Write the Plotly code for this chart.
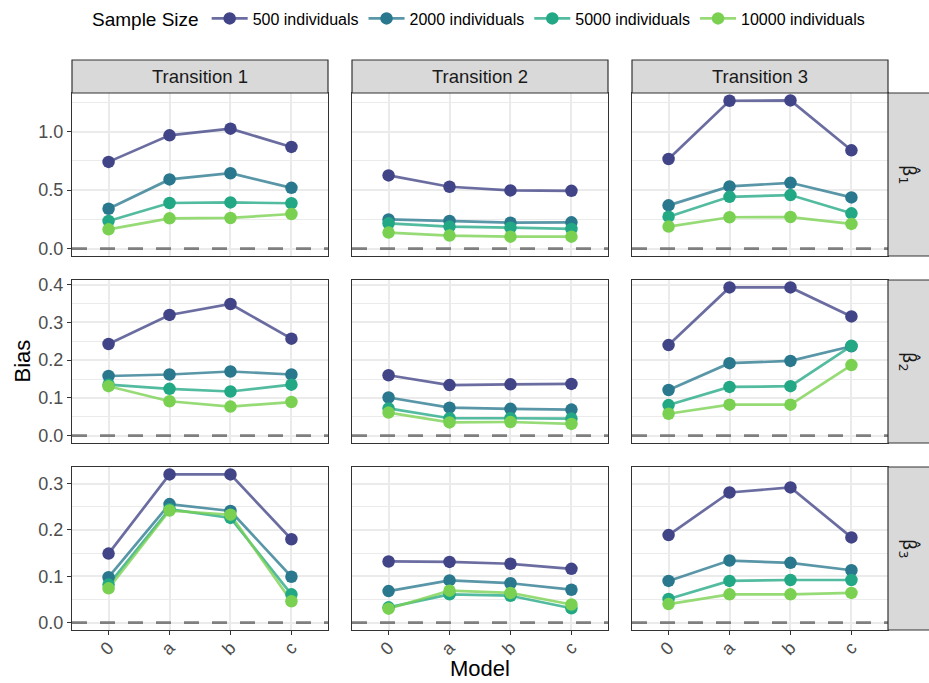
import plotly.graph_objects as go

# ---- data -------------------------------------------------------------
models = ["0", "a", "b", "c"]
transitions = ["Transition 1", "Transition 2", "Transition 3"]
sample_sizes = ["500 individuals", "2000 individuals", "5000 individuals", "10000 individuals"]
size_colors = ["#414487", "#2A788E", "#22A884", "#7AD151"]
param_labels = ["β\u0302<sub>1</sub>", "β\u0302<sub>2</sub>", "β\u0302<sub>3</sub>"]

# rows: sample size (500, 2000, 5000, 10000); columns: models 0, a, b, c
beta1_trans1 = [[0.742, 0.969, 1.026, 0.870],
                [0.341, 0.592, 0.645, 0.520],
                [0.236, 0.390, 0.395, 0.388],
                [0.165, 0.259, 0.262, 0.296]]
beta1_trans2 = [[0.626, 0.529, 0.498, 0.494],
                [0.250, 0.236, 0.222, 0.225],
                [0.216, 0.188, 0.179, 0.168],
                [0.137, 0.111, 0.102, 0.102]]
beta1_trans3 = [[0.767, 1.265, 1.268, 0.841],
                [0.370, 0.532, 0.563, 0.438],
                [0.273, 0.443, 0.458, 0.302],
                [0.188, 0.268, 0.270, 0.211]]
beta2_trans1 = [[0.243, 0.320, 0.349, 0.257],
                [0.158, 0.162, 0.170, 0.162],
                [0.135, 0.124, 0.117, 0.135],
                [0.131, 0.091, 0.077, 0.089]]
beta2_trans2 = [[0.160, 0.134, 0.136, 0.137],
                [0.101, 0.074, 0.071, 0.069],
                [0.072, 0.046, 0.046, 0.045],
                [0.061, 0.035, 0.036, 0.031]]
beta2_trans3 = [[0.240, 0.393, 0.393, 0.316],
                [0.121, 0.192, 0.198, 0.237],
                [0.081, 0.129, 0.131, 0.238],
                [0.058, 0.082, 0.082, 0.187]]
beta3_trans1 = [[0.149, 0.320, 0.320, 0.180],
                [0.098, 0.256, 0.241, 0.099],
                [0.082, 0.245, 0.226, 0.061],
                [0.074, 0.242, 0.233, 0.046]]
beta3_trans2 = [[0.132, 0.131, 0.127, 0.116],
                [0.068, 0.091, 0.085, 0.071],
                [0.033, 0.061, 0.058, 0.031],
                [0.030, 0.069, 0.064, 0.039]]
beta3_trans3 = [[0.189, 0.281, 0.292, 0.184],
                [0.090, 0.134, 0.129, 0.113],
                [0.051, 0.090, 0.092, 0.092],
                [0.040, 0.061, 0.061, 0.064]]

panels = [[beta1_trans1, beta1_trans2, beta1_trans3],
          [beta2_trans1, beta2_trans2, beta2_trans3],
          [beta3_trans1, beta3_trans2, beta3_trans3]]

major_ticks = [[0.0, 0.5, 1.0], [0.0, 0.1, 0.2, 0.3, 0.4], [0.0, 0.1, 0.2, 0.3]]
minor_ticks = [[0.25, 0.75, 1.25], [0.05, 0.15, 0.25, 0.35], [0.05, 0.15, 0.25]]

# ---- layout geometry (pixels) ----------------------------------------
W, H = 929, 683
col_px = [(72, 328), (352, 608), (632, 888)]
row_px = [(93, 256), (280, 443), (467, 630)]
strip_top = (60, 93)
strip_right = (888, 929)
FONT = "Liberation Sans"
BORDER = "#333333"
GRID = "#EBEBEB"


def px_x(p):
    return p / W


def px_y(p):
    return 1 - p / H


def rgba(hex_color, a):
    h = hex_color.lstrip("#")
    return "rgba(%d,%d,%d,%.2f)" % (int(h[0:2], 16), int(h[2:4], 16), int(h[4:6], 16), a)


fig = go.Figure()
layout = {}
shapes = []
annotations = []

for r in range(3):
    # facet rows share the y scale
    vals = [v for c in range(3) for s in panels[r][c] for v in s]
    lo, hi = min(0.0, min(vals)), max(vals)
    pad = 0.05 * (hi - lo)
    yrange = [lo - pad, hi + pad]
    for c in range(3):
        idx = r * 3 + 1 + c
        sfx = "" if idx == 1 else str(idx)
        xname, yname = "x" + sfx, "y" + sfx
        layout["xaxis" + sfx] = dict(
            domain=[px_x(col_px[c][0]), px_x(col_px[c][1])],
            anchor=yname, type="category", categoryorder="array",
            categoryarray=models, range=[-0.6, 3.6], automargin=False,
            showgrid=True, gridcolor=GRID, gridwidth=1.5,
            showline=True, mirror=True, linecolor=BORDER, linewidth=1.2,
            zeroline=False, fixedrange=True,
            showticklabels=(r == 2), tickangle=-45, ticklabelstandoff=-5,
            ticks="outside" if r == 2 else "", ticklen=4, tickcolor=BORDER,
            tickfont=dict(family=FONT, size=18, color="#4D4D4D"),
        )
        layout["yaxis" + sfx] = dict(
            domain=[px_y(row_px[r][1]), px_y(row_px[r][0])],
            anchor=xname, range=yrange, automargin=False,
            tickmode="array", tickvals=major_ticks[r],
            ticktext=["%.1f" % t for t in major_ticks[r]],
            showgrid=True, gridcolor=GRID, gridwidth=1.5,
            minor=dict(tickmode="array", tickvals=minor_ticks[r], showgrid=True,
                       gridcolor=GRID, gridwidth=0.8, ticks=""),
            showline=True, mirror=True, linecolor=BORDER, linewidth=1.2,
            zeroline=False, fixedrange=True,
            showticklabels=(c == 0),
            ticks="outside" if c == 0 else "", ticklen=4, tickcolor=BORDER,
            tickfont=dict(family=FONT, size=18, color="#4D4D4D"),
        )
        # reference line at zero bias
        shapes.append(dict(type="line", xref="paper", yref=yname,
                           x0=px_x(col_px[c][0]), x1=px_x(col_px[c][1]), y0=0, y1=0,
                           layer="above",
                           line=dict(color="#7F7F7F", width=2.8, dash="15px,13px")))
        series = panels[r][c]
        # lines first, then points on top
        for k, s in enumerate(series):
            fig.add_trace(go.Scatter(x=models, y=s, mode="lines", xaxis=xname, yaxis=yname,
                                     line=dict(color=rgba(size_colors[k], 0.78), width=2.7),
                                     showlegend=False, hoverinfo="skip"))
        for k, s in enumerate(series):
            fig.add_trace(go.Scatter(x=models, y=s, mode="markers", xaxis=xname, yaxis=yname,
                                     marker=dict(color=size_colors[k], size=12.5),
                                     showlegend=False, name=sample_sizes[k]))

# legend entries
for k, name in enumerate(sample_sizes):
    fig.add_trace(go.Scatter(x=[None], y=[None], mode="lines+markers", name=name,
                             line=dict(color=rgba(size_colors[k], 0.78), width=2.7),
                             marker=dict(color=size_colors[k], size=12.5),
                             xaxis="x", yaxis="y", showlegend=True))

# strips
for c, label in enumerate(transitions):
    shapes.append(dict(type="rect", xref="paper", yref="paper",
                       x0=px_x(col_px[c][0]), x1=px_x(col_px[c][1]),
                       y0=px_y(strip_top[1]), y1=px_y(strip_top[0]),
                       fillcolor="#D9D9D9", line=dict(color=BORDER, width=1.2), layer="above"))
    annotations.append(dict(text=label, xref="paper", yref="paper",
                            x=px_x(sum(col_px[c]) / 2), y=px_y(sum(strip_top) / 2),
                            showarrow=False, xanchor="center", yanchor="middle",
                            font=dict(family=FONT, size=18.5, color="#1A1A1A")))
for r, label in enumerate(param_labels):
    shapes.append(dict(type="rect", xref="paper", yref="paper",
                       x0=px_x(strip_right[0]), x1=1.01,
                       y0=px_y(row_px[r][1]), y1=px_y(row_px[r][0]),
                       fillcolor="#D9D9D9", line=dict(color=BORDER, width=1.2), layer="above"))
    annotations.append(dict(text=label, xref="paper", yref="paper",
                            x=px_x(sum(strip_right) / 2), y=px_y(sum(row_px[r]) / 2),
                            showarrow=False, xanchor="center", yanchor="middle", textangle=90,
                            font=dict(family="DejaVu Sans", size=18, color="#1A1A1A")))

# axis titles
annotations.append(dict(text="Bias", xref="paper", yref="paper", x=px_x(22),
                        y=px_y((row_px[0][0] + row_px[2][1]) / 2), showarrow=False,
                        textangle=-90, xanchor="center", yanchor="middle",
                        font=dict(family=FONT, size=22, color="#000000")))
annotations.append(dict(text="Model", xref="paper", yref="paper",
                        x=px_x((col_px[0][0] + col_px[2][1]) / 2), y=0,
                        showarrow=False, xanchor="center", yanchor="bottom",
                        font=dict(family=FONT, size=22, color="#000000")))

fig.update_layout(
    width=W, height=H, margin=dict(l=0, r=0, t=0, b=0, autoexpand=False),
    paper_bgcolor="white", plot_bgcolor="white",
    shapes=shapes, annotations=annotations,
    legend=dict(orientation="h", x=px_x(480), xanchor="center", y=px_y(19), yanchor="middle",
                itemwidth=36,
                title=dict(text="Sample Size", side="left",
                           font=dict(family=FONT, size=19, color="#000000")),
                font=dict(family=FONT, size=16, color="#000000"),
                bgcolor="rgba(0,0,0,0)"),
    showlegend=True,
    **layout,
)

fig.write_html("out.html")
